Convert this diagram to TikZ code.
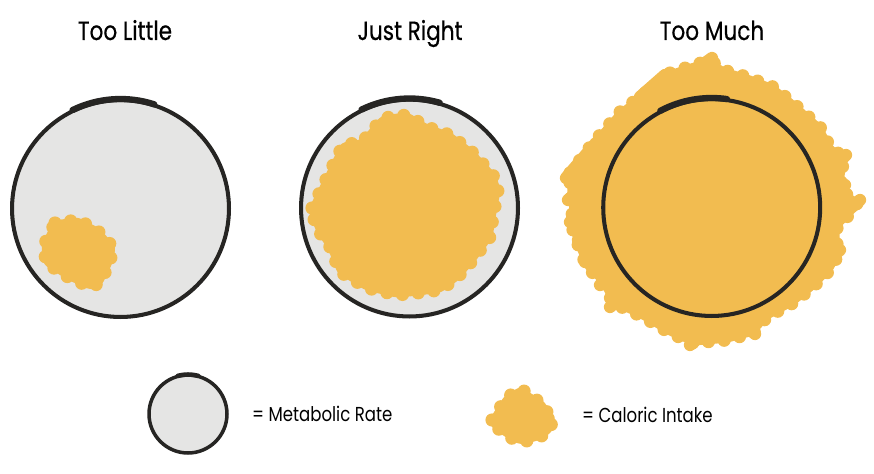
\documentclass[tikz,border=0pt]{standalone}
\usepackage{fontspec}
\setmainfont{Poppins}[FakeStretch=0.82]
\newfontfamily\headfont{Poppins}[FakeStretch=0.82, FakeBold=0.5]
\usetikzlibrary{positioning}
\definecolor{ink}{HTML}{262523}
\definecolor{plate}{HTML}{E5E5E4}
\definecolor{intake}{HTML}{F2BC50}
\tikzset{
    rate/.style={draw=ink, circle, line width=2.3pt, minimum size=4.34cm, inner sep=0pt},
    smallrate/.style={rate, line width=2pt, minimum size=1.56cm},
    rim/.style={ink, line width=3.6pt, line cap=round},
    scribble/.style={fill=intake, draw=intake, line width=3pt, line join=round, rounded corners=2pt},
    brush/.style={intake, line width=7.5pt, line cap=round, dash pattern=on 0pt off 9pt},
    stroke/.style={intake, line width=7pt, line cap=round},
    title/.style={font=\headfont\fontsize{15}{18}\selectfont, anchor=base},
    legtext/.style={font=\fontsize{11.5}{14}\selectfont, anchor=base west}
}

\begin{document}
\begin{tikzpicture}[x=0.02cm, y=-0.02cm]
  \useasboundingbox (0,0) rectangle (874,473);
  % blob under the third circle
  \draw[scribble] (570,173) -- (593,143) -- (620,112) -- (640,97) -- (670,73) -- (710,60)
    -- (723,70) -- (747,77) -- (773,87) -- (793,103) -- (820,127) -- (830,147) -- (843,157)
    -- (842,177) -- (840,190) -- (858,202) -- (847,217) -- (837,227) -- (837,257) -- (830,270)
    -- (813,287) -- (793,303) -- (767,317) -- (753,333) -- (727,340) -- (693,343) -- (670,333)
    -- (643,317) -- (613,303) -- (603,283) -- (587,267) -- (580,250) -- (573,230) -- (572,210)
    -- (570,193) -- cycle;
  \draw[brush] (570,173) -- (593,143) -- (620,112) -- (640,97) -- (670,73) -- (710,60)
    -- (723,70) -- (747,77) -- (773,87) -- (793,103) -- (820,127) -- (830,147) -- (843,157)
    -- (842,177) -- (840,190) -- (858,202) -- (847,217) -- (837,227) -- (837,257) -- (830,270)
    -- (813,287) -- (793,303) -- (767,317) -- (753,333) -- (727,340) -- (693,343) -- (670,333)
    -- (643,317) -- (613,303) -- (603,283) -- (587,267) -- (580,250) -- (573,230) -- (572,210)
    -- (570,193) -- cycle;
  \draw[stroke] (566,178) -- (596,143);
  \draw[stroke] (568,200) -- (592,180);
  \draw[stroke] (570,222) -- (600,196);
  \draw[stroke] (578,240) -- (606,218);
  \draw[stroke] (585,262) -- (612,242);
  \draw[stroke] (600,285) -- (625,265);
  \draw[stroke] (610,307) -- (632,288);
  \draw[stroke] (640,97) -- (665,75);
  \draw[stroke] (687,76) -- (712,58);
  \draw[stroke] (860,200) -- (838,219);
  \draw[stroke] (846,155) -- (825,175);
  \draw[stroke] (845,185) -- (825,202);
  \draw[stroke] (840,250) -- (818,268);
  \draw[stroke] (835,228) -- (815,246);
  \draw[stroke] (755,334) -- (742,322);
  \draw[stroke] (690,345) -- (705,332);

  % circles
  \node(little)[rate, fill=plate] at (120.5,208.5) {};
  \node(right)[rate, fill=plate] at (409.5,208) {};
  \node(much)[rate] at (711.7,207.5) {};
  \draw[rim] (little.center) ++(-116:109.5) arc[start angle=-116, end angle=-72, radius=109.5];
  \draw[rim] (right.center) ++(-116:109.5) arc[start angle=-116, end angle=-74, radius=109.5];
  \draw[rim] (much.center) ++(-118:109.5) arc[start angle=-118, end angle=-82, radius=109.5];

  % intake inside the first two
  \draw[scribble] (55,223) -- (78,220) -- (97,230) -- (113,247) -- (110,262) -- (100,283)
    -- (90,287) -- (68,277) -- (46,263) -- (44,245) -- cycle;
  \draw[brush] (55,223) -- (78,220) -- (97,230) -- (113,247) -- (110,262) -- (100,283)
    -- (90,287) -- (68,277) -- (46,263) -- (44,245) -- cycle;
  \draw[scribble] (312,208) -- (343,145) -- (362,142) -- (383,118) -- (407,115) -- (427,127)
    -- (450,135) -- (472,152) -- (493,175) -- (498,190) -- (493,217) -- (490,237) -- (473,260)
    -- (457,278) -- (440,290) -- (417,293) -- (397,295) -- (367,288) -- (340,272) -- (330,247)
    -- (320,233) -- (313,217) -- cycle;
  \draw[brush] (312,208) -- (343,145) -- (362,142) -- (383,118) -- (407,115) -- (427,127)
    -- (450,135) -- (472,152) -- (493,175) -- (498,190) -- (493,217) -- (490,237) -- (473,260)
    -- (457,278) -- (440,290) -- (417,293) -- (397,295) -- (367,288) -- (340,272) -- (330,247)
    -- (320,233) -- (313,217) -- cycle;

  % titles
  \node(t1)[title] at (125,40) {Too Little};
  \node(t2)[title] at (410,40) {Just Right};
  \node(t3)[title] at (712,40) {Too Much};

  % legend
  \node(legrate)[smallrate, fill=plate] at (188,414) {};
  \draw[rim, line width=2.6pt] (legrate.center) ++(-105:39.5) arc[start angle=-105, end angle=-75, radius=39.5];
  \node(ratetext)[legtext] at (246,421.5) {= Metabolic Rate};
  \draw[scribble] (492,420) -- (507,397) -- (522,389) -- (527,394) -- (543,404) -- (547,412)
    -- (553,417) -- (550,430) -- (540,437) -- (523,442) -- (513,439) -- (500,430) -- (493,425) -- cycle;
  \draw[brush] (492,420) -- (507,397) -- (522,389) -- (527,394) -- (543,404) -- (547,412)
    -- (553,417) -- (550,430) -- (540,437) -- (523,442) -- (513,439) -- (500,430) -- (493,425) -- cycle;
  \node(intaketext)[legtext] at (576,422.5) {= Caloric Intake};
\end{tikzpicture}
\end{document}
